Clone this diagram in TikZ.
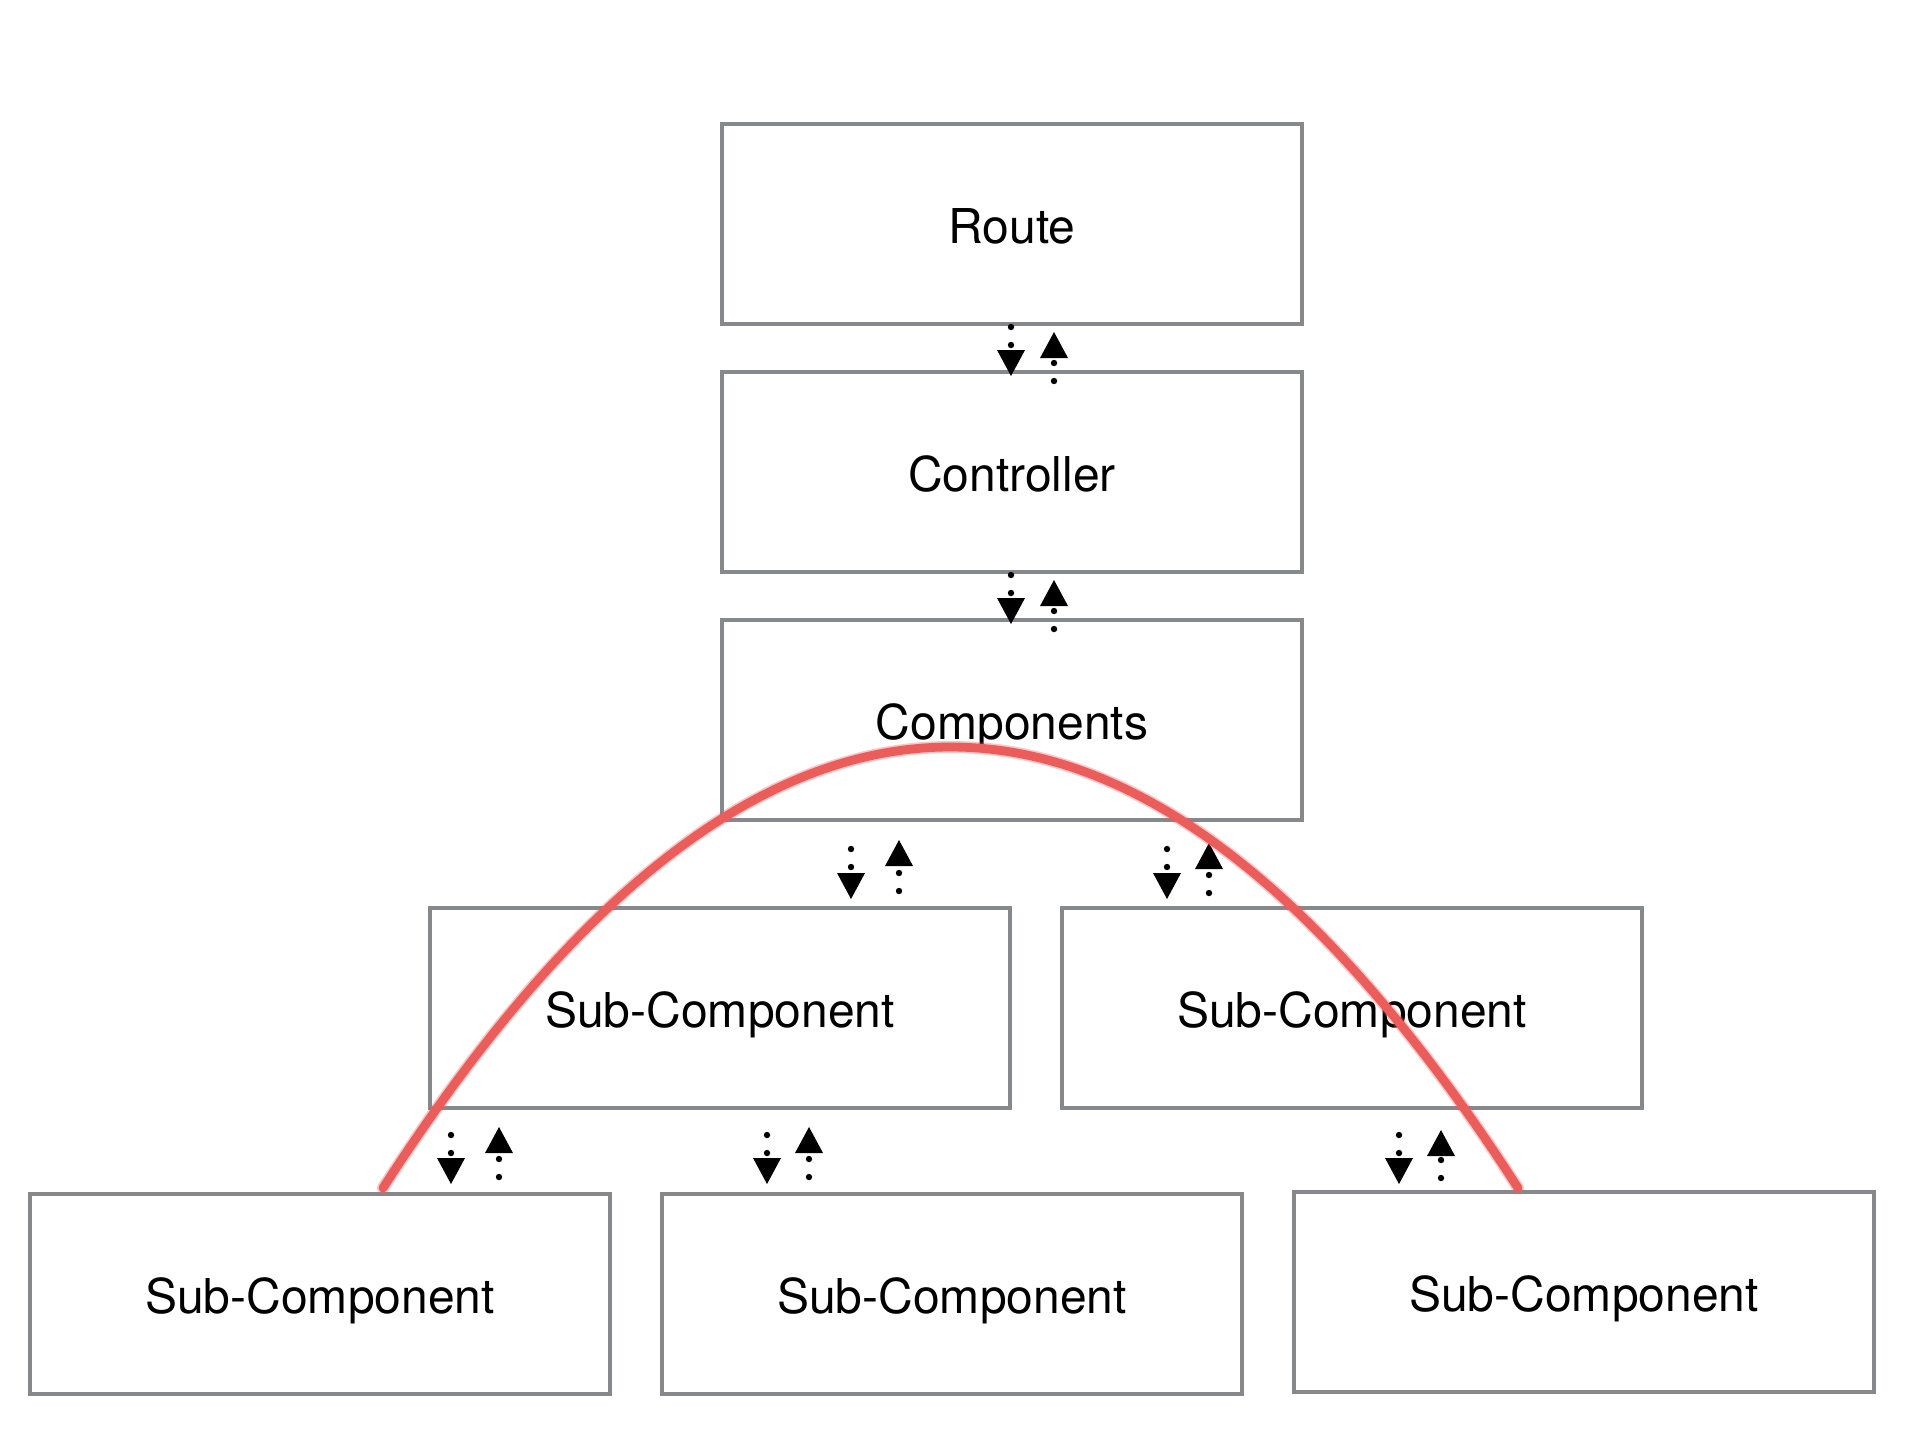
\documentclass[tikz,border=0pt]{standalone}
\usepackage{fontspec}
\setmainfont{TeX Gyre Heros}
\usepackage{tikz}
\usetikzlibrary{arrows.meta}

\definecolor{boxgray}{RGB}{134,136,140}
\definecolor{pencilred}{RGB}{234,93,91}
\tikzset{
  box/.style={draw=boxgray,line width=1.6pt,minimum width=290pt,minimum height=100pt,
    inner sep=0pt,outer sep=0pt,font=\fontsize{24pt}{28pt}\selectfont,
    text height=19pt,text depth=0pt},
  flow/.style={line width=3.2pt,line cap=round,dash pattern=on 0pt off 9pt,
    -{Triangle[width=14pt,length=13pt,line width=0pt]}},
  pencil/.style={pencilred,line width=4.4pt,line cap=round}
}

\begin{document}
\begin{tikzpicture}[x=0.5pt,y=-0.5pt]
\useasboundingbox (0,0) rectangle (1914,1436);
\node[box] (route) at (1012,224)  {Route};
\node[box] (ctrl)  at (1012,472)  {Controller};
\node[box] (comp)  at (1012,720)  {Components};
\node[box] (subl)  at (720,1008)  {Sub-Component};
\node[box] (subr)  at (1352,1008) {Sub-Component};
\node[box] (botl)  at (320,1294)  {Sub-Component};
\node[box] (botm)  at (952,1294)  {Sub-Component};
\node[box] (botr)  at (1584,1292) {Sub-Component};

\draw[flow,shorten <=1.5pt,shorten >=-2pt] (1011,0 |- route.south) -- (1011,0 |- ctrl.north);
\draw[flow,shorten <=-4.5pt,shorten >=4pt] (1054,0 |- ctrl.north) -- (1054,0 |- route.south);
\draw[flow,shorten <=1.5pt,shorten >=-2pt] (1011,0 |- ctrl.south) -- (1011,0 |- comp.north);
\draw[flow,shorten <=-4.5pt,shorten >=4pt] (1054,0 |- comp.north) -- (1054,0 |- ctrl.south);

\draw[flow,shorten <=14.5pt,shorten >=4.5pt] (851,0 |- comp.south) -- (851,0 |- subl.north);
\draw[flow,shorten <=8.5pt,shorten >=10pt] (899,0 |- subl.north) -- (899,0 |- comp.south);
\draw[flow,shorten <=14.5pt,shorten >=4.5pt] (1167,0 |- comp.south) -- (1167,0 |- subr.north);
\draw[flow,shorten <=7.5pt,shorten >=11.5pt] (1209,0 |- subr.north) -- (1209,0 |- comp.south);

\draw[flow,shorten <=13.5pt,shorten >=5pt] (451,0 |- subl.south) -- (451,0 |- botl.north);
\draw[flow,shorten <=8.5pt,shorten >=9.5pt] (499,0 |- botl.north) -- (499,0 |- subl.south);
\draw[flow,shorten <=13.5pt,shorten >=5pt] (767,0 |- subl.south) -- (767,0 |- botm.north);
\draw[flow,shorten <=8.5pt,shorten >=9.5pt] (809,0 |- botm.north) -- (809,0 |- subl.south);
\draw[flow,shorten <=13.5pt,shorten >=4pt] (1399,0 |- subr.south) -- (1399,0 |- botr.north);
\draw[flow,shorten <=7pt,shorten >=11pt] (1441,0 |- botr.north) -- (1441,0 |- subr.south);

\draw[pencil,line width=6pt,opacity=.35] (383,1188) .. controls (762,600) and (1139,600) .. (1518,1188);
\draw[pencil] (383,1188) .. controls (762,600) and (1139,600) .. (1518,1188);
\end{tikzpicture}
\end{document}
